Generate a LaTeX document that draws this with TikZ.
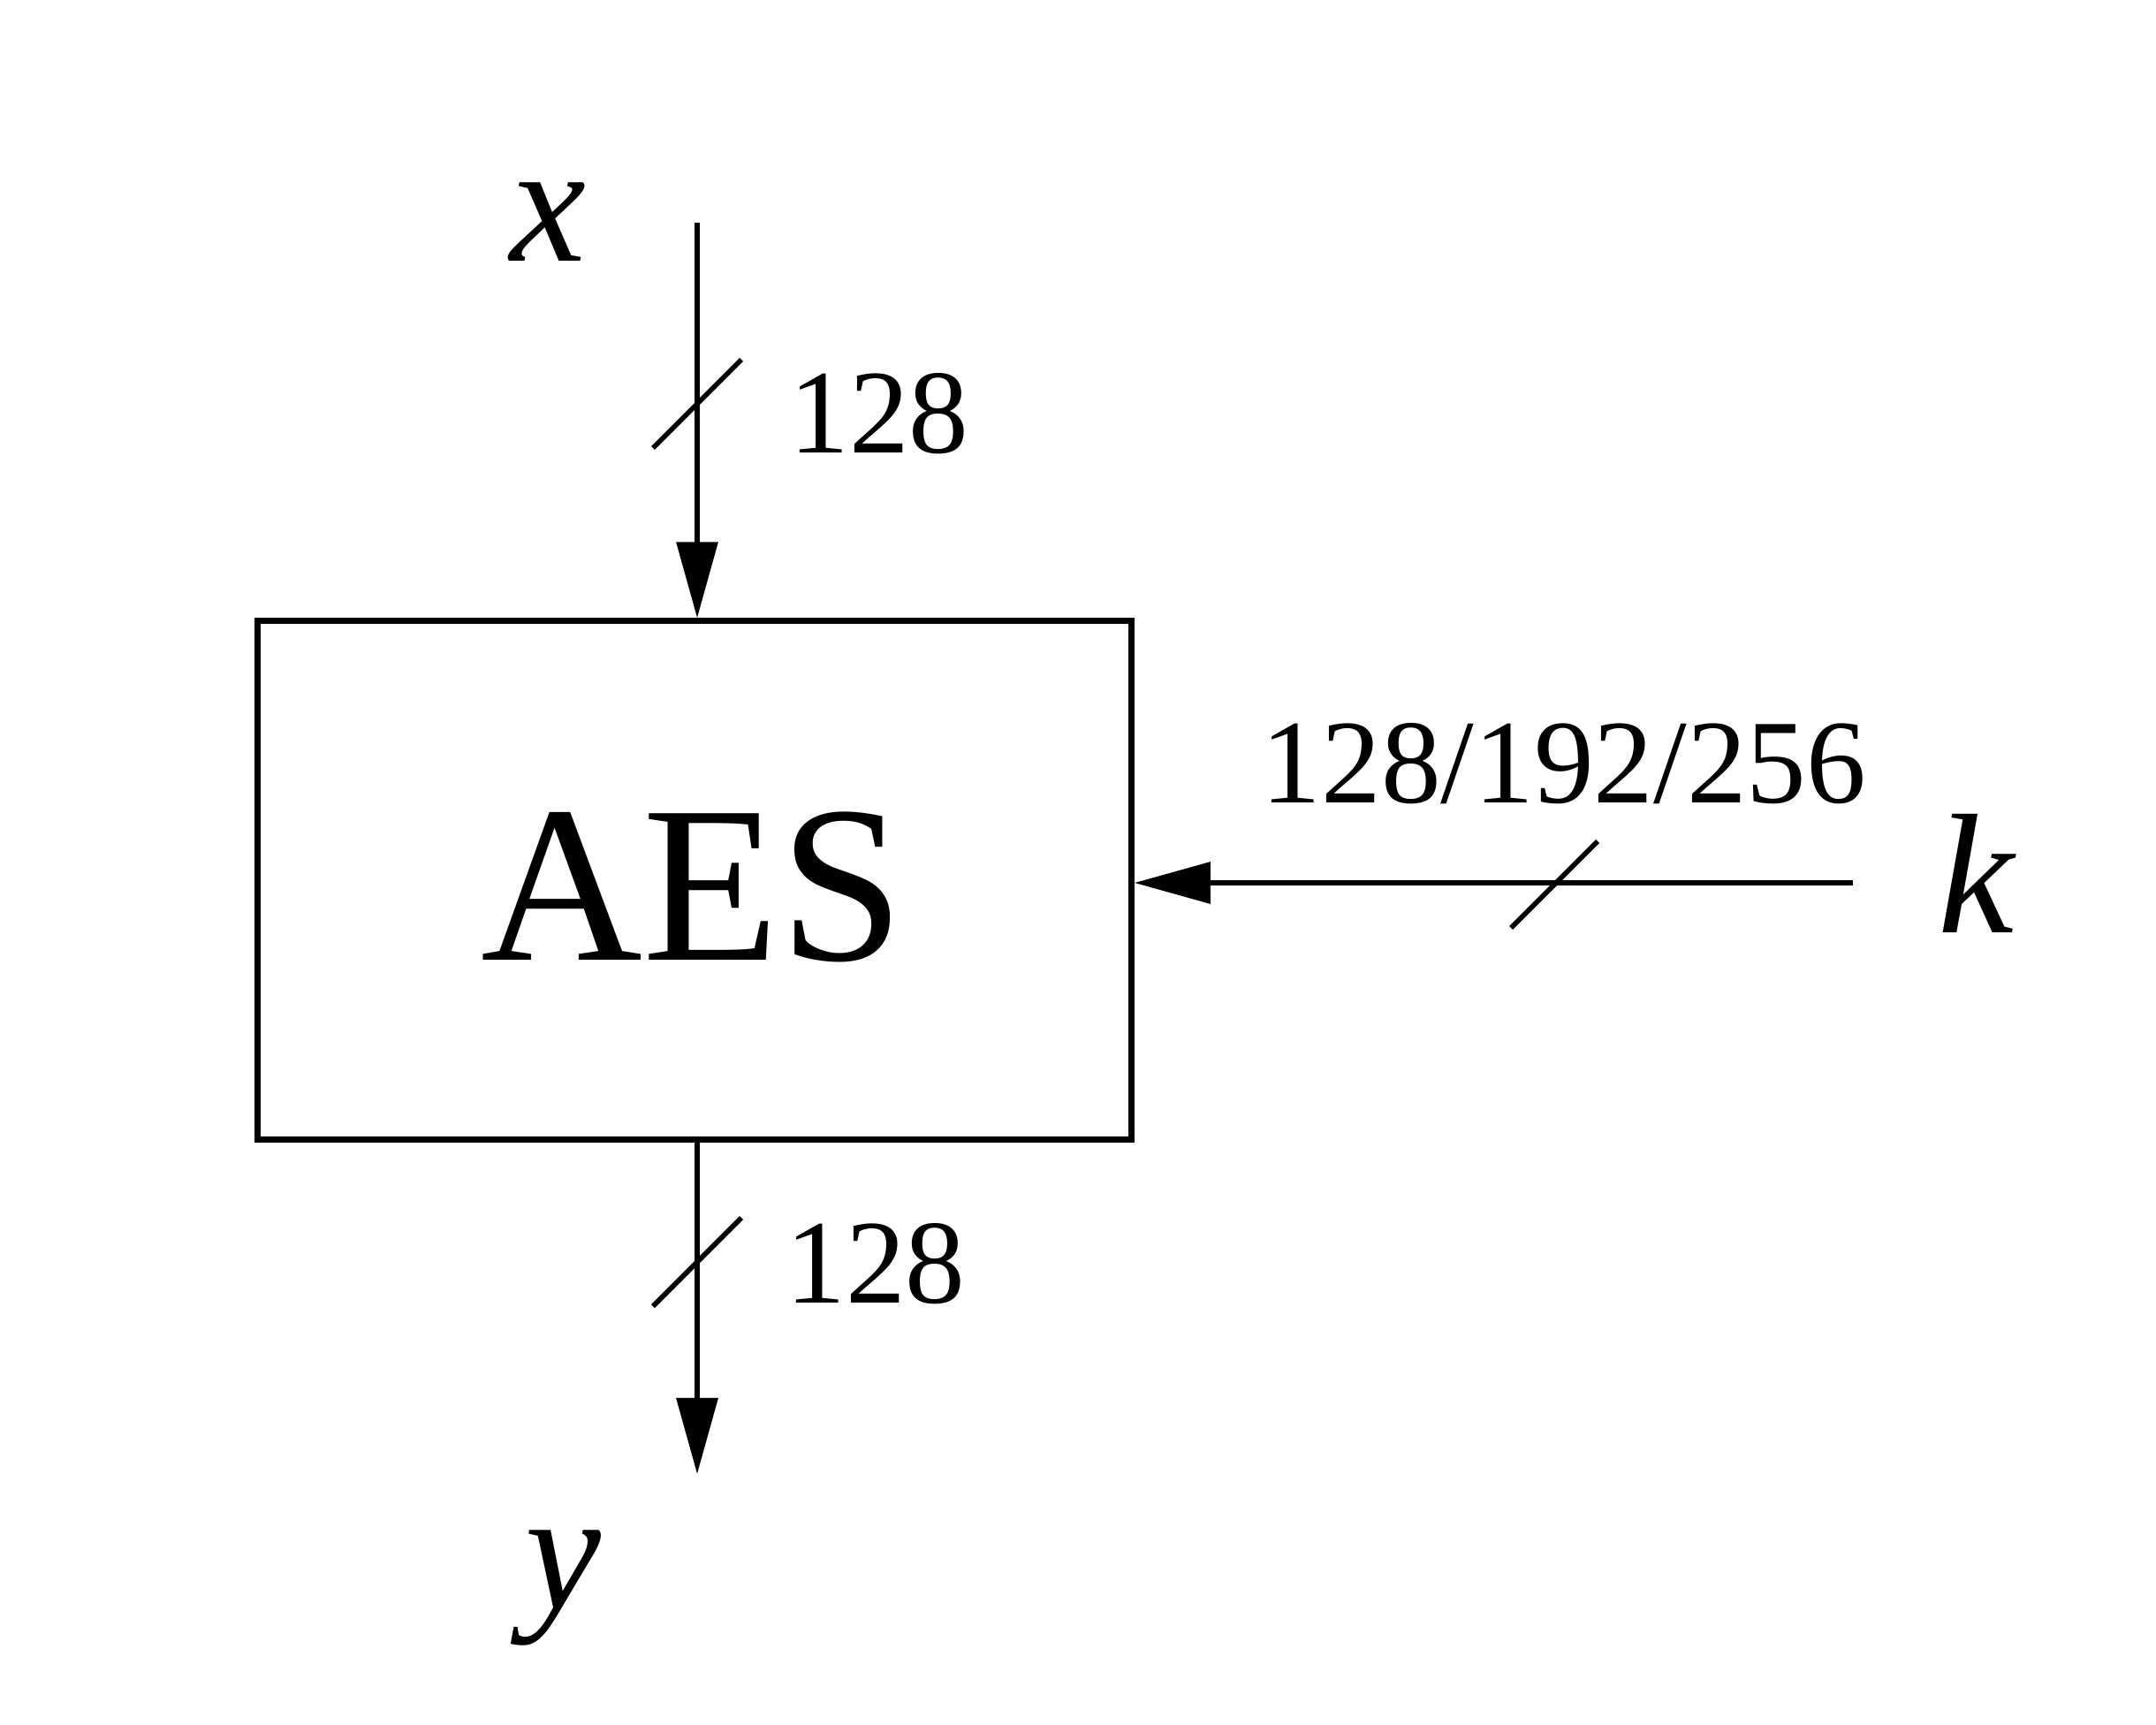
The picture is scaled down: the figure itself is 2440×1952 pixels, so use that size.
\documentclass[tikz,border=0pt]{standalone}
\usepackage{fontspec}
\setmainfont{Liberation Serif}
\usetikzlibrary{arrows.meta,calc}
\begin{document}
\begin{tikzpicture}[x=0.01cm,y=-0.01cm,
  wire/.style={line width=1.8pt,draw=black},
  arr/.style={wire,-{Triangle[length=0.86cm,width=0.46cm]}},
  busmark/.style={line width=1.6pt,draw=black},
  num/.style={font=\fontsize{38.5}{46}\selectfont,inner sep=0pt,anchor=base},
  var/.style={font=\fontsize{55}{62}\selectfont\itshape,inner sep=0pt,anchor=base},
  blockbox/.style={draw=black,line width=2pt,minimum width=9.88cm,minimum height=5.86cm,inner sep=0pt,font=\fontsize{72}{80}\selectfont}]
\useasboundingbox (0,0) rectangle (2440,1952);
\fill[white] (0,0) rectangle (2440,1952);
% block
\node[blockbox] (aes) at (786,996) {};
\node[font=\fontsize{72}{80}\selectfont,inner sep=0pt,anchor=base] (aestext) at (784,1086) {AES};
% input x
\coordinate (xin) at (789,252);
\coordinate (yout) at (789,1668);
\coordinate (kin) at (2097,999);
\draw[arr] (xin) -- (xin |- aes.north);
\draw[arr] (yout |- aes.south) -- (yout);
\draw[arr] (kin) -- (kin -| aes.east);
% bus marks
\coordinate (s1) at (789,457);
\coordinate (s2) at (789,1428);
\coordinate (s3) at (1759,1001);
\draw[busmark] ($(s1)+(-50,50)$) -- ($(s1)+(50,-50)$);
\draw[busmark] ($(s2)+(-50,50)$) -- ($(s2)+(50,-50)$);
\draw[busmark] ($(s3)+(-49,49)$) -- ($(s3)+(49,-49)$);
% labels
\node[num] (n1) at (995,512) {128};
\node[num] (n2) at (991,1474) {128};
\node[num] (n3) at (1770,908) {128/192/256};
\node[var] (lx) at (620,296) {x};
\node[var] (lk) at (2236,1055) {k};
\node[var] (ly) at (637,1820) {y};
\end{tikzpicture}
\end{document}
